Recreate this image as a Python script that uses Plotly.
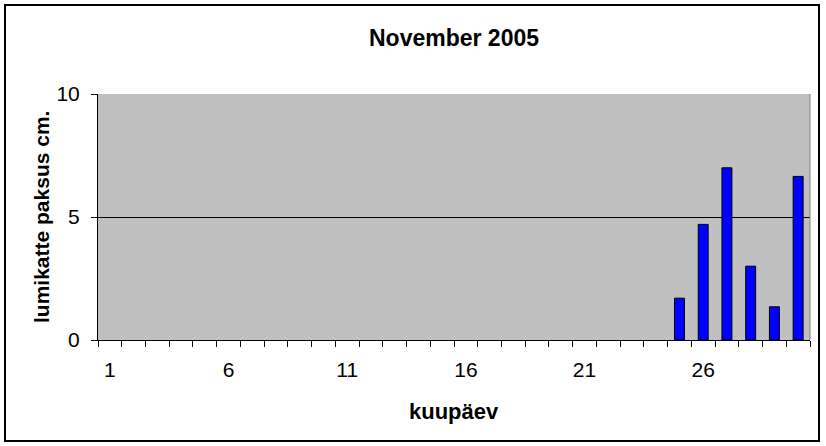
import plotly.graph_objects as go

days = list(range(1, 31))
snow = [None]*24 + [1.7, 4.7, 7.0, 3.0, 1.35, 6.65]
tick_days = [1, 6, 11, 16, 21, 26]
tick_labels = [str(d) for d in tick_days]
boundaries = [d + 0.5 for d in range(0, 31)]

W, H = 826, 446
L, R, T, B = 98, 16, 94, 106
PW, PH = W - L - R, H - T - B

fig = go.Figure()
fig.add_trace(go.Bar(x=days, y=snow, width=0.42,
                     marker=dict(color="#0000FF", line=dict(color="black", width=1)),
                     showlegend=False, hoverinfo="skip"))
fig.add_trace(go.Scatter(x=[1], y=[0], xaxis="x2", mode="markers",
                         marker=dict(opacity=0), showlegend=False, hoverinfo="skip"))

font = "Liberation Sans, Arial, sans-serif"
fs = 21
fig.update_layout(
    width=W, height=H,
    margin=dict(l=L, r=R, t=T, b=B),
    paper_bgcolor="white", plot_bgcolor="#C0C0C0",
    title=dict(text="<b>November 2005</b>", x=0.5, xref="paper", xanchor="center",
               y=1 - 38/H, yanchor="middle",
               font=dict(family=font, size=23, color="black")),
    xaxis=dict(range=[0.5, 30.5], tickmode="array", tickvals=boundaries,
               ticktext=[""]*len(boundaries), ticks="outside", ticklen=6,
               tickcolor="black", showline=True, linecolor="black", linewidth=1,
               showgrid=False, zeroline=False, automargin=False),
    xaxis2=dict(range=[0.5, 30.5], overlaying="x", side="bottom", tickmode="array",
                tickvals=tick_days, ticktext=tick_labels, ticks="", showgrid=False,
                zeroline=False, showline=False, ticklabelstandoff=15, automargin=False,
                tickfont=dict(family=font, size=fs, color="black")),
    yaxis=dict(range=[0, 10], tickmode="array", tickvals=[0, 5, 10], ticks="outside",
               ticklen=6, tickcolor="black", showline=True, linecolor="black",
               showgrid=True, gridcolor="black", gridwidth=1, zeroline=False,
               ticklabelstandoff=7, automargin=False,
               tickfont=dict(family=font, size=fs, color="black")),
)
fig.add_annotation(text="<b>kuupäev</b>", xref="paper", yref="paper", x=0.5,
                   y=-(411 - (H - B)) / PH, xanchor="center", yanchor="middle",
                   showarrow=False, font=dict(family=font, size=22, color="black"))
fig.add_annotation(text="<b>lumikatte paksus cm.</b>", xref="paper", yref="paper",
                   x=(41 - L) / PW, y=0.5, xanchor="center", yanchor="middle",
                   textangle=-90, showarrow=False,
                   font=dict(family=font, size=fs, color="black"))
# plot-area right border (gray) and whole-chart border (black)
fig.add_shape(type="line", xref="paper", yref="paper", x0=1, x1=1, y0=0, y1=1,
              line=dict(color="#808080", width=1))
fig.add_shape(type="rect", xref="paper", yref="paper",
              x0=-(L - 5)/PW, x1=1 + (819 - (W - R))/PW,
              y0=-(441 - (H - B))/PH, y1=1 + (T - 5)/PH,
              line=dict(color="black", width=2))
fig.write_html("out.html", config={"displayModeBar": False},
               post_script="document.body.style.margin='0';")
